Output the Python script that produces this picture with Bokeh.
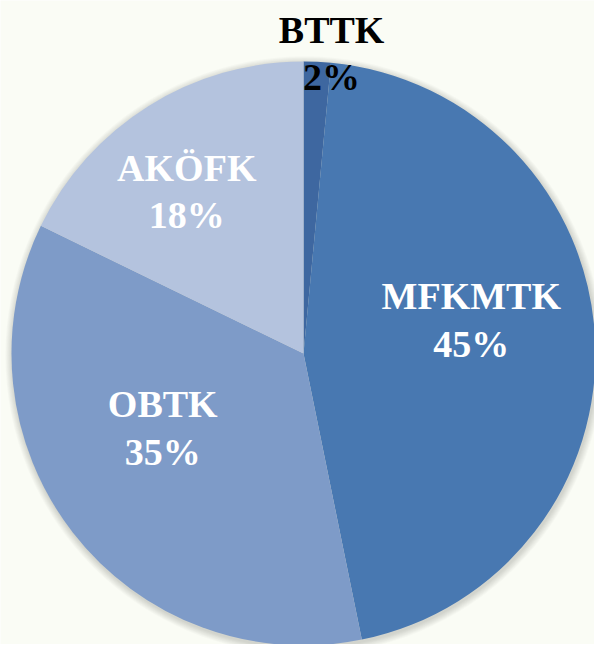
import numpy as np
from bokeh.plotting import figure
from bokeh.models import Range1d, ColumnDataSource
from bokeh.core.properties import value
from bokeh.embed import file_html
from bokeh.resources import INLINE

# ---- data ----
categories = ["BTTK", "MFKMTK", "OBTK", "AKÖFK"]
shares = [1.5, 45.3, 35.4, 17.8]
pct_labels = ["2%", "45%", "35%", "18%"]
colors = ["#3e67a0", "#4878b1", "#7e9bc8", "#b4c3de"]
label_colors = ["#000000", "#ffffff", "#ffffff", "#ffffff"]

# ---- layout (not data) ----
W, H = 594, 644
CX, CY, R = 303, 291, 292
LABEL_RADIUS = [288, 169, 166, 189]
LABEL_ANGLE_SHIFT = [2.9, -3.7, 5.8, -6.1]  # degrees, clockwise
LINE_HALF_GAP = 23.7
BASELINE_FIX = 13.5
BG = "#fafcf5"
FONT = value("Liberation Serif")
FSIZE = "38px"

vals = np.array(shares, dtype=float)
frac = vals / vals.sum()
cum_end = np.cumsum(frac)
cum_start = cum_end - frac
start = np.pi / 2 - 2 * np.pi * cum_start
end = np.pi / 2 - 2 * np.pi * cum_end

mid_deg = (cum_start + frac / 2) * 360 + np.array(LABEL_ANGLE_SHIFT)
mid_rad = np.deg2rad(mid_deg)
lr = np.array(LABEL_RADIUS)
lx = CX + lr * np.sin(mid_rad)
ly = CY + lr * np.cos(mid_rad) + BASELINE_FIX

src = ColumnDataSource(dict(cat=categories, start=start, end=end, color=colors))
lab = ColumnDataSource(dict(x=lx, y_name=ly + LINE_HALF_GAP, y_pct=ly - LINE_HALF_GAP,
                            cat=categories, pct=pct_labels, tc=label_colors))

p = figure(width=W, height=H, x_range=Range1d(0, W), y_range=Range1d(0, H),
           output_backend="svg", toolbar_location=None, min_border=0)
p.axis.visible = False
p.grid.visible = False
p.outline_line_color = None
p.background_fill_color = BG
p.border_fill_color = BG

# soft shadow
for k in range(1, 9):
    p.circle(x=CX + 1, y=CY - 2, radius=R + k * 0.9, fill_color="black",
             fill_alpha=0.018, line_color=None)

p.wedge(x=CX, y=CY, radius=R, start_angle="start", end_angle="end",
        direction="clock", fill_color="color", line_color=None, source=src)

p.text(x="x", y="y_name", text="cat", source=lab, text_align="center",
       text_baseline="alphabetic", text_font=FONT, text_font_style="bold",
       text_font_size=FSIZE, text_color="tc")
p.text(x="x", y="y_pct", text="pct", source=lab, text_align="center",
       text_baseline="alphabetic", text_font=FONT, text_font_style="bold",
       text_font_size=FSIZE, text_color="tc")

open("out.html", "w").write(file_html(p, INLINE))
